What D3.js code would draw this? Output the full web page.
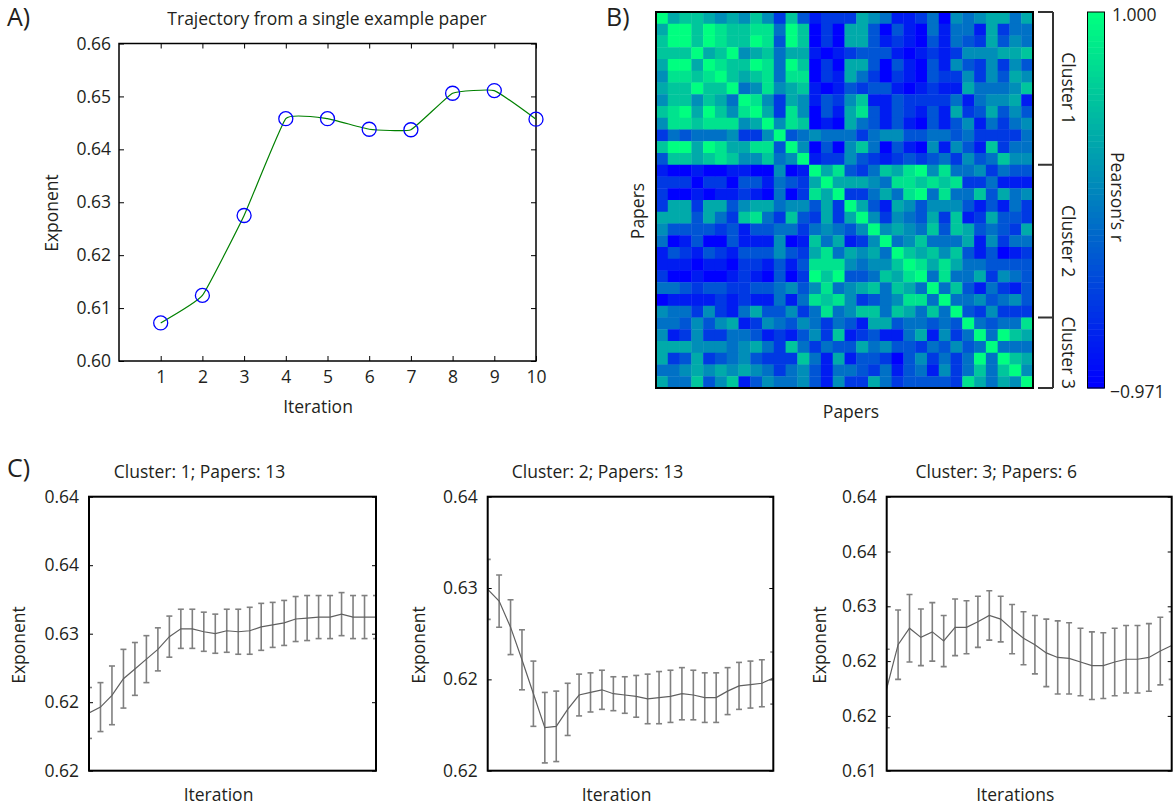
<!DOCTYPE html>
<meta charset="utf-8">
<title>Exponent trajectories</title>
<style>
body { margin: 0; background: #fff; }
text { font-family: "Open Sans", sans-serif; fill: #231f20; }
.tick line { stroke: #000; }
</style>

<script src="https://d3js.org/d3.v7.min.js"></script>

<div id="chart"></div>

<script>

// ---- panel A : one paper ----
var iterations = [1, 2, 3, 4, 5, 6, 7, 8, 9, 10];
var exampleExponent = [0.6072, 0.6124, 0.6275, 0.6458, 0.6458, 0.6438, 0.6437, 0.6506, 0.6511, 0.6457];
var exponentTicksA = [0.60, 0.61, 0.62, 0.63, 0.64, 0.65, 0.66];

// ---- panel B : correlation between papers ----
// colour levels 0 (r = -0.971) .. 9 (r = 1.000), upper triangle, each row starts on the diagonal
var rMin = -0.971, rMax = 1.0;
var clusterSizes = [13, 13, 6];
var corrLevels = [
  [9,6,7,7,6,5,6,5,7,5,2,7,3,1,2,2,2,6,5,4,1,1,2,4,0,5,4,5,6,6,4,6],
  [9,9,7,9,8,7,7,8,8,4,9,7,0,2,0,6,6,3,0,3,1,0,4,1,4,4,1,6,2,4,4],
  [9,7,9,8,7,7,9,8,3,9,7,0,2,0,6,6,3,1,2,1,0,3,1,4,3,2,6,3,5,4],
  [9,6,7,9,5,6,7,4,6,6,1,0,1,2,3,3,3,1,0,1,2,1,2,5,5,5,6,6,7],
  [9,8,7,7,9,8,4,9,7,0,2,0,6,6,3,0,3,1,0,3,1,5,3,2,5,2,5,3],
  [9,7,6,7,8,4,8,8,0,2,1,6,4,2,0,2,1,0,3,2,2,5,2,5,3,6,5],
  [9,4,5,8,5,6,7,1,0,1,3,2,3,3,1,0,1,2,1,1,6,4,4,4,5,7],
  [9,8,5,2,6,5,1,3,2,5,7,1,1,3,2,2,2,2,4,1,4,5,5,6,1],
  [9,6,2,8,5,0,3,1,6,8,3,1,3,2,1,3,1,6,2,3,6,3,5,3],
  [9,5,8,7,0,1,0,6,4,3,1,3,1,0,3,1,3,5,1,4,2,4,5],
  [9,3,4,5,4,4,4,2,4,5,5,3,3,4,4,3,4,2,2,2,2,4],
  [9,5,0,3,0,5,7,4,0,3,1,0,5,1,5,3,1,7,2,4,4],
  [9,1,2,2,5,3,2,1,2,3,2,3,4,2,5,3,4,7,5,5],
  [9,6,8,3,2,4,7,6,8,9,5,8,4,4,5,2,4,3,3],
  [9,6,6,6,5,4,8,8,7,8,7,8,2,2,4,1,1,1],
  [9,2,2,4,6,4,8,9,4,8,4,4,7,3,6,4,5],
  [9,6,3,1,6,5,3,5,5,5,3,1,3,1,4,2],
  [9,5,2,5,4,3,6,2,7,1,2,6,3,3,2],
  [9,5,6,5,4,7,3,7,6,3,4,3,2,6],
  [9,4,5,7,4,4,4,6,1,5,2,4,4],
  [9,7,6,7,5,7,3,1,3,0,1,2],
  [9,8,6,8,6,4,4,3,3,3,3],
  [9,4,8,4,4,6,2,5,4,3],
  [9,4,7,3,1,4,2,1,3],
  [9,4,4,5,3,4,5,3],
  [9,3,2,5,2,2,2],
  [9,4,3,4,4,8],
  [9,4,9,7,6],
  [9,4,4,4],
  [9,7,6],
  [9,5],
  [9]
];

// ---- panel C : cluster means with error bars ----
var c1Mean = [0.6219,0.6225,0.6237,0.6254,0.6264,0.6274,0.6284,0.6297,0.6305,0.6305,0.6302,0.6300,0.6303,0.6302,0.6303,0.6307,0.6309,0.6311,0.6315,0.6316,0.6317,0.6317,0.6320,0.6317,0.6317,0.6317];
var c1Err  = [0.0026,0.0025,0.0030,0.0030,0.0027,0.0024,0.0022,0.0021,0.0020,0.0020,0.0020,0.0020,0.0022,0.0023,0.0024,0.0024,0.0023,0.0023,0.0023,0.0023,0.0022,0.0022,0.0022,0.0022,0.0022,0.0022];
var c2Mean = [0.6299,0.6290,0.6270,0.6245,0.6219,0.6193,0.6194,0.6207,0.6218,0.6220,0.6222,0.6219,0.6218,0.6217,0.6215,0.6216,0.6217,0.6219,0.6218,0.6216,0.6216,0.6221,0.6225,0.6226,0.6227,0.6231];
var c2Err  = [0.0023,0.0020,0.0021,0.0023,0.0025,0.0027,0.0027,0.0020,0.0016,0.0015,0.0015,0.0013,0.0014,0.0016,0.0019,0.0020,0.0020,0.0020,0.0019,0.0019,0.0019,0.0018,0.0018,0.0018,0.0018,0.0020];
var c3Mean = [0.6210,0.6258,0.6276,0.6266,0.6272,0.6262,0.6277,0.6277,0.6283,0.6290,0.6286,0.6275,0.6265,0.6258,0.6249,0.6244,0.6243,0.6239,0.6235,0.6235,0.6239,0.6242,0.6242,0.6244,0.6251,0.6257];
var c3Err  = [0.0043,0.0038,0.0037,0.0031,0.0032,0.0028,0.0031,0.0029,0.0028,0.0027,0.0025,0.0027,0.0029,0.0032,0.0037,0.0040,0.0039,0.0037,0.0037,0.0036,0.0037,0.0037,0.0037,0.0037,0.0037,0.0037];
var c1Ticks = [0.616, 0.623, 0.630, 0.637, 0.644];
var c2Ticks = [0.616, 0.623, 0.630, 0.637];
var c3Ticks = [0.612, 0.618, 0.624, 0.630, 0.636, 0.642];


var svg = d3.select("#chart")
  .append("svg")
  .attr("width", 1173)
  .attr("height", 808);

var fmt2 = d3.format(".2f");

function panelLabel(txt, x, y) {
  svg.append("text").attr("x", x).attr("y", y)
    .style("font-size", "25px").text(txt);
}

function styleAxis(g) {
  g.select(".domain").remove();
  g.selectAll(".tick line").attr("stroke", "#000").attr("stroke-width", 1);
  g.selectAll(".tick text").style("font-size", "17.5px").attr("fill", "#231f20");
}

// ================= A =================
var a = {left: 119, right: 536, top: 43.5, bottom: 361};
var xA = d3.scaleLinear().domain([0, 10]).range([a.left, a.right]);
var yA = d3.scaleLinear().domain([0.60, 0.66]).range([a.bottom, a.top]);

var gA = svg.append("g");

gA.append("g")
  .attr("transform", "translate(0," + a.bottom + ")")
  .call(d3.axisBottom(xA).tickValues(iterations).tickSize(-5).tickPadding(10))
  .call(styleAxis);
gA.append("g")
  .attr("transform", "translate(0," + a.top + ")")
  .call(d3.axisTop(xA).tickValues(iterations).tickSize(-5).tickFormat(""))
  .call(styleAxis);
gA.append("g")
  .attr("transform", "translate(" + a.left + ",0)")
  .call(d3.axisLeft(yA).tickValues(exponentTicksA).tickSize(-5).tickPadding(8).tickFormat(fmt2))
  .call(styleAxis);
gA.append("g")
  .attr("transform", "translate(" + a.right + ",0)")
  .call(d3.axisRight(yA).tickValues(exponentTicksA).tickSize(-5).tickFormat(""))
  .call(styleAxis);

gA.append("rect")
  .attr("x", a.left).attr("y", a.top)
  .attr("width", a.right - a.left).attr("height", a.bottom - a.top)
  .attr("fill", "none").attr("stroke", "#000").attr("stroke-width", 1.5);

gA.append("path")
  .datum(iterations)
  .attr("fill", "none")
  .attr("stroke", "#008000")
  .attr("stroke-width", 1.2)
  .attr("d", d3.line()
    .x(function(d) { return xA(d); })
    .y(function(d, i) { return yA(exampleExponent[i]); })
    .curve(d3.curveCardinal.tension(0.65)));

gA.selectAll("circle.pt")
  .data(iterations)
  .enter().append("circle")
    .attr("class", "pt")
    .attr("cx", function(d) { return xA(d); })
    .attr("cy", function(d, i) { return yA(exampleExponent[i]); })
    .attr("r", 7)
    .attr("fill", "none")
    .attr("stroke", "#0000ff")
    .attr("stroke-width", 1.3);

gA.append("text")
  .attr("x", 327).attr("y", 25)
  .attr("text-anchor", "middle")
  .style("font-size", "17.5px")
  .text("Trajectory from a single example paper");
gA.append("text")
  .attr("x", 318).attr("y", 413)
  .attr("text-anchor", "middle")
  .style("font-size", "17.5px")
  .text("Iteration");
gA.append("text")
  .attr("transform", "translate(58,213) rotate(-90)")
  .attr("text-anchor", "middle")
  .style("font-size", "17.5px")
  .text("Exponent");
panelLabel("A)", 7, 26);

// ================= B =================
var n = corrLevels.length;
var levelToR = d3.scaleLinear().domain([0, 9]).range([rMin, rMax]);
var cells = [];
for (var i = 0; i < n; i++) {
  for (var j = 0; j < n; j++) {
    var lv = j >= i ? corrLevels[i][j - i] : corrLevels[j][i - j];
    cells.push({row: i, col: j, r: levelToR(lv)});
  }
}

// MATLAB "winter" map
var tScale = d3.scaleLinear().domain([rMin, rMax]).range([0, 1]).clamp(true);
function winter(r) {
  var t = tScale(r);
  return d3.rgb(0, Math.round(255 * t), Math.round(255 * (1 - t / 2))).toString();
}

var b = {left: 656, right: 1033, top: 12, bottom: 388};
var xB = d3.scaleBand().domain(d3.range(n)).range([b.left, b.right]);
var yB = d3.scaleBand().domain(d3.range(n)).range([b.top, b.bottom]);

var gB = svg.append("g");
gB.selectAll("rect.cell")
  .data(cells)
  .enter().append("rect")
    .attr("class", "cell")
    .attr("x", function(d) { return xB(d.col); })
    .attr("y", function(d) { return yB(d.row); })
    .attr("width", xB.bandwidth() + 0.4)
    .attr("height", yB.bandwidth() + 0.4)
    .attr("fill", function(d) { return winter(d.r); });

gB.append("rect")
  .attr("x", b.left).attr("y", b.top)
  .attr("width", b.right - b.left).attr("height", b.bottom - b.top)
  .attr("fill", "none").attr("stroke", "#000").attr("stroke-width", 2);

// cluster brackets
var bounds = [0];
clusterSizes.forEach(function(s) { bounds.push(bounds[bounds.length - 1] + s); });
var yEdge = function(k) { return k < n ? yB(k) : b.bottom; };
var brX = 1053, brX0 = 1038;
var br = gB.append("g").attr("stroke", "#333").attr("stroke-width", 2).attr("fill", "none");
br.append("line").attr("x1", brX).attr("x2", brX).attr("y1", yEdge(0)).attr("y2", yEdge(n));
br.selectAll("line.tk")
  .data(bounds)
  .enter().append("line")
    .attr("class", "tk")
    .attr("x1", brX0).attr("x2", brX)
    .attr("y1", function(k) { return yEdge(k); })
    .attr("y2", function(k) { return yEdge(k); });

gB.selectAll("text.cl")
  .data(clusterSizes)
  .enter().append("text")
    .attr("class", "cl")
    .attr("text-anchor", "middle")
    .style("font-size", "17.5px")
    .attr("transform", function(d, k) {
      var cy = (yEdge(bounds[k]) + yEdge(bounds[k + 1])) / 2;
      return "translate(1062," + cy + ") rotate(90)";
    })
    .text(function(d, k) { return "Cluster " + (k + 1); });

// colour bar
var cb = {left: 1087.5, right: 1104.5};
var yCb = d3.scaleLinear().domain([rMin, rMax]).range([b.bottom, b.top]);
var cbSteps = d3.range(64).map(function(k) { return rMin + (rMax - rMin) * k / 63; });
var stepH = (b.bottom - b.top) / 64;
gB.selectAll("rect.cb")
  .data(cbSteps)
  .enter().append("rect")
    .attr("class", "cb")
    .attr("x", cb.left)
    .attr("width", cb.right - cb.left)
    .attr("y", function(d, k) { return b.bottom - (k + 1) * stepH; })
    .attr("height", stepH + 0.5)
    .attr("fill", function(d) { return winter(d); });
gB.append("rect")
  .attr("x", cb.left).attr("y", b.top)
  .attr("width", cb.right - cb.left).attr("height", b.bottom - b.top)
  .attr("fill", "none").attr("stroke", "#000").attr("stroke-width", 1);

gB.append("text").attr("x", 1112).attr("y", yCb(rMax) + 9)
  .style("font-size", "17.5px").text(d3.format(".3f")(rMax));
gB.append("text").attr("x", 1110).attr("y", yCb(rMin) + 10)
  .style("font-size", "17.5px").text("\u2212" + d3.format(".3f")(-rMin));
gB.append("text")
  .attr("transform", "translate(1111,197) rotate(90)")
  .attr("text-anchor", "middle")
  .style("font-size", "17.5px")
  .text("Pearson\u2019s r");

gB.append("text")
  .attr("transform", "translate(644,211) rotate(-90)")
  .attr("text-anchor", "middle")
  .style("font-size", "17.5px")
  .text("Papers");
gB.append("text")
  .attr("x", 851).attr("y", 418)
  .attr("text-anchor", "middle")
  .style("font-size", "17.5px")
  .text("Papers");
panelLabel("B)", 606, 26);

// ================= C =================
var cTop = 496.7, cBottom = 770.7;
var clusterPanels = [
  {left: 89, right: 376, mean: c1Mean, err: c1Err, ticks: c1Ticks, papers: 13, xlab: "Iteration", ylabX: 25},
  {left: 487.7, right: 773.3, mean: c2Mean, err: c2Err, ticks: c2Ticks, papers: 13, xlab: "Iteration", ylabX: 425},
  {left: 886.7, right: 1171.7, mean: c3Mean, err: c3Err, ticks: c3Ticks, papers: 6, xlab: "Iterations", ylabX: 826}
];

clusterPanels.forEach(function(p, k) {
  var g = svg.append("g");
  var steps = d3.range(p.mean.length);
  var x = d3.scaleLinear().domain([0, steps.length - 1]).range([p.left, p.right]);
  var y = d3.scaleLinear().domain(d3.extent(p.ticks)).range([cBottom, cTop]);

  var clipId = "clipC" + k;
  g.append("clipPath").attr("id", clipId)
    .append("rect")
      .attr("x", p.left).attr("y", cTop)
      .attr("width", p.right - p.left).attr("height", cBottom - cTop);

  g.append("g")
    .attr("transform", "translate(" + p.left + ",0)")
    .call(d3.axisLeft(y).tickValues(p.ticks).tickSize(-4).tickPadding(10).tickFormat(fmt2))
    .call(styleAxis);
  g.append("g")
    .attr("transform", "translate(" + p.right + ",0)")
    .call(d3.axisRight(y).tickValues(p.ticks).tickSize(-4).tickFormat(""))
    .call(styleAxis);

  var plot = g.append("g").attr("clip-path", "url(#" + clipId + ")");
  var bars = plot.append("g").attr("stroke", "#808080").attr("stroke-width", 1.6);
  steps.forEach(function(s) {
    var lo = y(p.mean[s] - p.err[s]), hi = y(p.mean[s] + p.err[s]), cx = x(s);
    bars.append("line").attr("x1", cx).attr("x2", cx).attr("y1", lo).attr("y2", hi);
    bars.append("line").attr("x1", cx - 3).attr("x2", cx + 3).attr("y1", lo).attr("y2", lo);
    bars.append("line").attr("x1", cx - 3).attr("x2", cx + 3).attr("y1", hi).attr("y2", hi);
  });
  plot.append("path")
    .datum(steps)
    .attr("fill", "none")
    .attr("stroke", "#606060")
    .attr("stroke-width", 1.2)
    .attr("d", d3.line()
      .x(function(s) { return x(s); })
      .y(function(s) { return y(p.mean[s]); }));

  g.append("rect")
    .attr("x", p.left).attr("y", cTop)
    .attr("width", p.right - p.left).attr("height", cBottom - cTop)
    .attr("fill", "none").attr("stroke", "#000").attr("stroke-width", 2);

  var mid = (p.left + p.right) / 2;
  g.append("text")
    .attr("x", mid - 33).attr("y", 478)
    .attr("text-anchor", "middle")
    .style("font-size", "17.5px")
    .text("Cluster: " + (k + 1) + "; Papers: " + p.papers);
  g.append("text")
    .attr("x", mid - 14).attr("y", 801)
    .attr("text-anchor", "middle")
    .style("font-size", "17.5px")
    .text(p.xlab);
  g.append("text")
    .attr("transform", "translate(" + p.ylabX + ",645) rotate(-90)")
    .attr("text-anchor", "middle")
    .style("font-size", "17.5px")
    .text("Exponent");
});
panelLabel("C)", 7, 477);

</script>
